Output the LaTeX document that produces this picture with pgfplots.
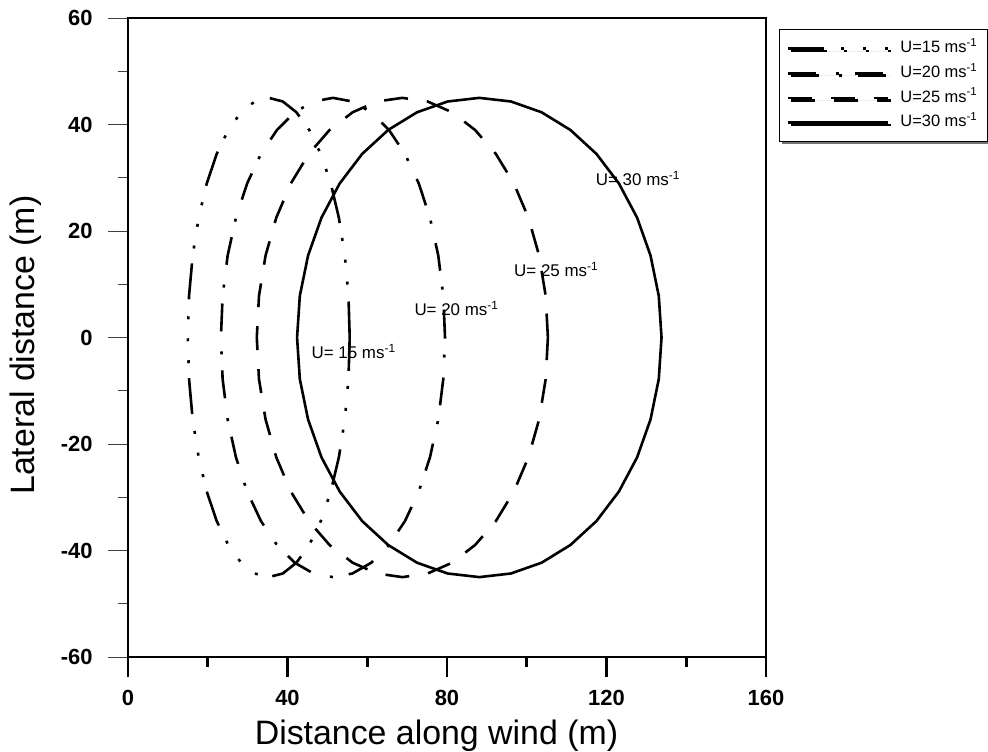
\documentclass[border=0pt]{standalone}
\usepackage{fontspec}
\setmainfont{Liberation Sans}
\usepackage{pgfplots}
\pgfplotsset{compat=1.18}
\usetikzlibrary{shadows}

\begin{document}
\begin{tikzpicture}
\useasboundingbox (-128bp,-95bp) rectangle (860bp,657bp);
\begin{axis}[
  at={(0,0)}, anchor=south west,
  scale only axis, width=638bp, height=639bp,
  xmin=0, xmax=160, ymin=-60, ymax=60,
  axis line style={line width=2.6bp},
  xtick={0,40,80,120,160}, xticklabels={0,40,80,120,160},
  ytick={-60,-40,-20,0,20,40,60}, yticklabels={-60,-40,-20,0,20,40,60},
  minor x tick num=1, minor y tick num=1,
  tick align=outside, xtick pos=bottom, ytick pos=left,
  major tick length=20bp, minor tick length=10bp,
  every x tick/.append style={line width=2.6bp, black},
  every y tick/.append style={line width=0.8bp, black!75},
  tick label style={font=\fontsize{22}{26}\selectfont\bfseries},
  xticklabel style={yshift=-10bp},
  yticklabel style={xshift=-12bp},
  xlabel={Distance along wind (m)},
  ylabel={Lateral distance (m)},
  label style={font=\fontsize{34}{40}\selectfont},
  xlabel style={at={(axis description cs:0.4835,-0.1377)}, anchor=base},
  ylabel style={at={(axis description cs:-0.1458,0.488)}, anchor=base},
  clip=false,
  legend style={at={(axis description cs:1.021,0.983)}, anchor=north west,
    draw=black, line width=0.8bp, fill=white,
    font=\fontsize{16.5}{19}\selectfont,
    drop shadow={shadow xshift=2.5bp, shadow yshift=-2.5bp, fill=black!55, opacity=1},
    row sep=3.2bp, inner xsep=7bp, inner ysep=8.5bp,
    nodes={inner sep=3bp, text height=12bp, text depth=3.5bp}},
  legend cell align=left,
  legend image code/.code={\draw[#1] (0bp,0bp) -- (100bp,0bp); \path (108bp,0bp);},
  every axis plot/.append style={line width=2.6bp, black},
]
\addplot[dash pattern=on 36bp off 17bp on 3bp off 19bp on 3bp off 19bp on 3bp off 15bp] coordinates {
(55.60,0) (55.29,7.81) (54.38,15.39) (52.88,22.50) (50.85,28.93) (48.35,34.47) (45.45,38.97) (42.24,42.29) (38.82,44.32) (35.30,45)
(31.78,44.32) (28.36,42.29) (25.15,38.97) (22.25,34.47) (19.75,28.93) (17.72,22.50) (16.22,15.39) (15.31,7.81) (15.00,0)
(15.31,-7.81) (16.22,-15.39) (17.72,-22.50) (19.75,-28.93) (22.25,-34.47) (25.15,-38.97) (28.36,-42.29) (31.78,-44.32) (35.30,-45)
(38.82,-44.32) (42.24,-42.29) (45.45,-38.97) (48.35,-34.47) (50.85,-28.93) (52.88,-22.50) (54.38,-15.39) (55.29,-7.81) (55.60,0)
};
\addlegendentry{U=15 ms\textsuperscript{-1}}
\addplot[dash pattern=on 28bp off 20bp on 3bp off 16bp] coordinates {
(79.50,0) (79.07,7.81) (77.81,15.39) (75.73,22.50) (72.92,28.93) (69.46,34.47) (65.45,38.97) (61.01,42.29) (56.28,44.32) (51.40,45)
(46.52,44.32) (41.79,42.29) (37.35,38.97) (33.34,34.47) (29.88,28.93) (27.07,22.50) (24.99,15.39) (23.73,7.81) (23.30,0)
(23.73,-7.81) (24.99,-15.39) (27.07,-22.50) (29.88,-28.93) (33.34,-34.47) (37.35,-38.97) (41.79,-42.29) (46.52,-44.32) (51.40,-45)
(56.28,-44.32) (61.01,-42.29) (65.45,-38.97) (69.46,-34.47) (72.92,-28.93) (75.73,-22.50) (77.81,-15.39) (79.07,-7.81) (79.50,0)
};
\addlegendentry{U=20 ms\textsuperscript{-1}}
\addplot[dash pattern=on 24bp off 19bp] coordinates {
(105.30,0) (104.75,7.81) (103.10,15.39) (100.41,22.50) (96.76,28.93) (92.26,34.47) (87.05,38.97) (81.28,42.29) (75.14,44.32) (68.80,45)
(62.46,44.32) (56.32,42.29) (50.55,38.97) (45.34,34.47) (40.84,28.93) (37.19,22.50) (34.50,15.39) (32.85,7.81) (32.30,0)
(32.85,-7.81) (34.50,-15.39) (37.19,-22.50) (40.84,-28.93) (45.34,-34.47) (50.55,-38.97) (56.32,-42.29) (62.46,-44.32) (68.80,-45)
(75.14,-44.32) (81.28,-42.29) (87.05,-38.97) (92.26,-34.47) (96.76,-28.93) (100.41,-22.50) (103.10,-15.39) (104.75,-7.81) (105.30,0)
};
\addlegendentry{U=25 ms\textsuperscript{-1}}
\addplot[solid] coordinates {
(133.80,0) (133.11,7.81) (131.04,15.39) (127.68,22.50) (123.11,28.93) (117.48,34.47) (110.95,38.97) (103.73,42.29) (96.03,44.32) (88.10,45)
(80.17,44.32) (72.47,42.29) (65.25,38.97) (58.72,34.47) (53.09,28.93) (48.52,22.50) (45.16,15.39) (43.09,7.81) (42.40,0)
(43.09,-7.81) (45.16,-15.39) (48.52,-22.50) (53.09,-28.93) (58.72,-34.47) (65.25,-38.97) (72.47,-42.29) (80.17,-44.32) (88.10,-45)
(96.03,-44.32) (103.73,-42.29) (110.95,-38.97) (117.48,-34.47) (123.11,-28.93) (127.68,-22.50) (131.04,-15.39) (133.11,-7.81) (133.80,0)
};
\addlegendentry{U=30 ms\textsuperscript{-1}}
\node[anchor=west, inner sep=0pt, font=\fontsize{17}{20}\selectfont] at (axis cs:46.0,-2.6) {U= 15 ms\textsuperscript{-1}};
\node[anchor=west, inner sep=0pt, font=\fontsize{17}{20}\selectfont] at (axis cs:71.8,5.4) {U= 20 ms\textsuperscript{-1}};
\node[anchor=west, inner sep=0pt, font=\fontsize{17}{20}\selectfont] at (axis cs:96.8,12.8) {U= 25 ms\textsuperscript{-1}};
\node[anchor=west, inner sep=0pt, font=\fontsize{17}{20}\selectfont] at (axis cs:117.3,29.8) {U= 30 ms\textsuperscript{-1}};
\end{axis}
\end{tikzpicture}
\end{document}
